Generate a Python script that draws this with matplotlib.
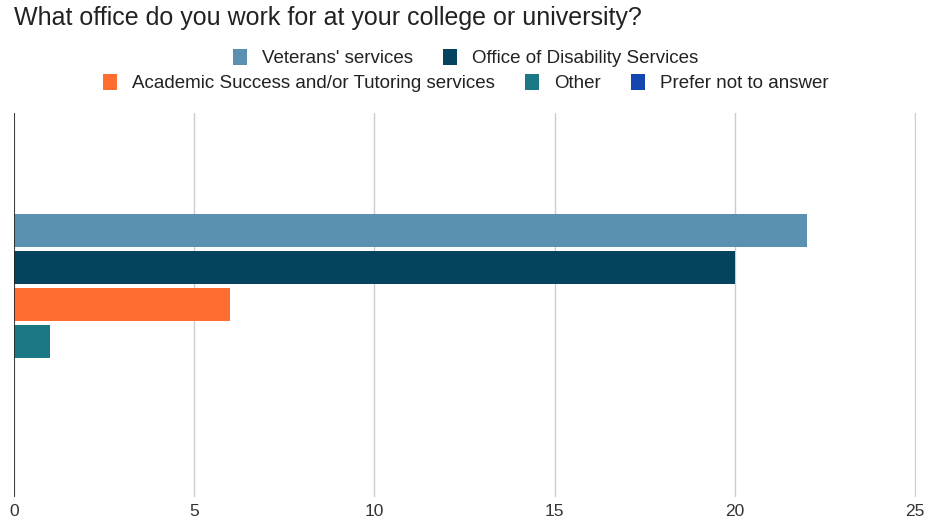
import matplotlib.pyplot as plt
from matplotlib.patches import Patch

plt.rcParams['font.family'] = ['Liberation Sans', 'DejaVu Sans']

# survey responses
offices = ["Veterans' services", "Office of Disability Services",
           "Academic Success and/or Tutoring services", "Other",
           "Prefer not to answer"]
counts = [22, 20, 6, 1, 0]
colors = ["#5a91b0", "#04445f", "#ff6d31", "#1d7885", "#1446b0"]
xticks = [0, 5, 10, 15, 20, 25]

fig = plt.figure(figsize=(9.3, 5.27), dpi=100)
ax = fig.add_axes([14 / 930, 1 - 497 / 527, 902 / 930, 384 / 527])

ypos = list(range(len(counts)))
ax.barh(ypos, counts, height=0.89, color=colors, zorder=3)

ax.set_xlim(0, 25.03)
ax.set_ylim(7.2, -3.18)
ax.set_xticks(xticks)
ax.set_yticks([])
ax.grid(axis="x", color="#cccccc", linewidth=1, zorder=0)
ax.axvline(0, color="#222222", linewidth=1.2, zorder=4)
for s in ax.spines.values():
    s.set_visible(False)
ax.tick_params(axis="x", length=0, pad=5, labelsize=12.5, labelcolor="#333333")

fig.text(14 / 930, 1 - 18 / 527, "What office do you work for at your college or university?",
         fontsize=18, color="#222222", va="center", ha="left")

handles = [Patch(facecolor=c, edgecolor="none") for c in colors]
leg_kw = dict(frameon=False, fontsize=13.5, handlelength=0.75, handleheight=1.0,
              handletextpad=0.8, columnspacing=1.6, loc="center")
leg1 = fig.legend(handles[:2], offices[:2], ncol=2,
                  bbox_to_anchor=(466 / 930, 1 - 58 / 527), **leg_kw)
leg2 = fig.legend(handles[2:], offices[2:], ncol=3,
                  bbox_to_anchor=(466 / 930, 1 - 83 / 527), **leg_kw)
for leg in (leg1, leg2):
    for t in leg.get_texts():
        t.set_color("#222222")

fig.savefig("out.png", dpi=100)
